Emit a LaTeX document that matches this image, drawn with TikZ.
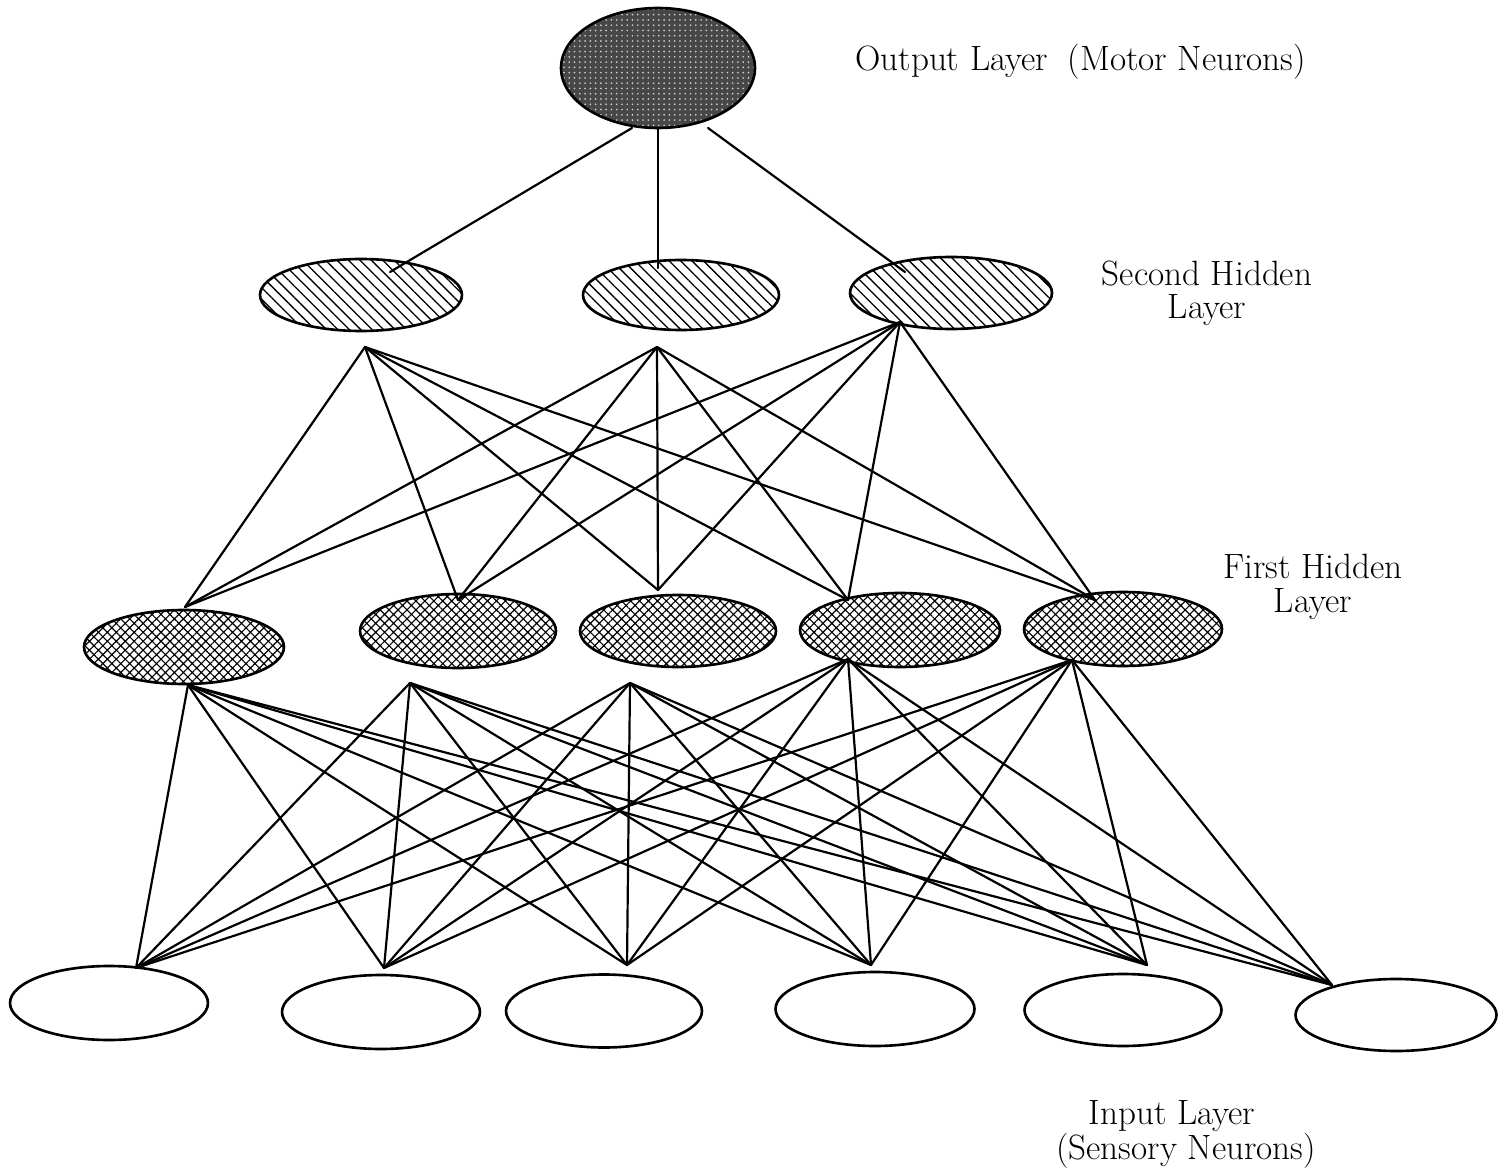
\documentclass[tikz,border=0pt]{standalone}
\usetikzlibrary{shapes.geometric,patterns.meta}
\tikzset{
  neuron/.style={ellipse, draw=black, line width=1.5pt, inner sep=0pt},
  outcell/.style={neuron, preaction={fill=black!72},
    pattern={Dots[distance=3pt,radius=0.55pt]}, pattern color=white!80!black},
  hidtwo/.style={neuron, preaction={fill=white},
    pattern={Lines[angle=-45,distance=4.6pt,line width=0.75pt]}, pattern color=black},
  hidone/.style={neuron, preaction={fill=white},
    pattern={Hatch[angle=45,distance=3.6pt,line width=0.65pt]}, pattern color=black},
  incell/.style={neuron, fill=white},
  wire/.style={line width=1.25pt, line cap=round},
  lbl/.style={font=\fontsize{20}{19}\selectfont, inner sep=0pt, align=center}
}
\begin{document}
\begin{tikzpicture}[x=0.02cm, y=-0.02cm]
\useasboundingbox (0,0) rectangle (1508,1169);

% ---- connection points ----
\coordinate (ob1) at (632,128); \coordinate (ob2) at (658,128); \coordinate (ob3) at (708,128);
\coordinate (st1) at (390,272); \coordinate (st2) at (658,268); \coordinate (st3) at (905,272);
\coordinate (sb1) at (365,347); \coordinate (sb2) at (657,347); \coordinate (sb3) at (900,322);
\coordinate (ft1) at (185,607); \coordinate (ft2) at (458,600); \coordinate (ft3) at (658,590);
\coordinate (ft4) at (848,600); \coordinate (ft5) at (1095,600);
\coordinate (fb1) at (188,685); \coordinate (fb2) at (410,683); \coordinate (fb3) at (630,683);
\coordinate (fb4) at (848,659); \coordinate (fb5) at (1072,660);
\coordinate (it1) at (136,968); \coordinate (it2) at (384,968); \coordinate (it3) at (627,965);
\coordinate (it4) at (871,965); \coordinate (it5) at (1147,965); \coordinate (it6) at (1332,985);

% ---- neurons ----
\node[outcell, minimum width=3.88cm, minimum height=2.4cm] (out) at (658,68) {};

\node[hidtwo, minimum width=4.04cm, minimum height=1.44cm] (s1) at (361,295) {};
\node[hidtwo, minimum width=3.92cm, minimum height=1.40cm] (s2) at (681,295) {};
\node[hidtwo, minimum width=4.04cm, minimum height=1.44cm] (s3) at (951,293) {};

\node[hidone, minimum width=4.00cm, minimum height=1.48cm] (f1) at (184,647) {};
\node[hidone, minimum width=3.92cm, minimum height=1.48cm] (f2) at (458,631) {};
\node[hidone, minimum width=3.92cm, minimum height=1.44cm] (f3) at (678,631) {};
\node[hidone, minimum width=4.00cm, minimum height=1.48cm] (f4) at (900,630) {};
\node[hidone, minimum width=3.96cm, minimum height=1.48cm] (f5) at (1123,629) {};

\node[incell, minimum width=3.96cm, minimum height=1.48cm] (n1) at (109,1003) {};
\node[incell, minimum width=3.96cm, minimum height=1.48cm] (n2) at (381,1012) {};
\node[incell, minimum width=3.92cm, minimum height=1.46cm] (n3) at (604,1011) {};
\node[incell, minimum width=3.98cm, minimum height=1.48cm] (n4) at (875,1009) {};
\node[incell, minimum width=3.94cm, minimum height=1.44cm] (n5) at (1123,1010) {};
\node[incell, minimum width=4.02cm, minimum height=1.44cm] (n6) at (1396,1015) {};

% ---- connections ----
\draw[wire] (ob1) -- (st1);
\draw[wire] (ob2) -- (st2);
\draw[wire] (ob3) -- (st3);

\foreach \s in {sb1,sb2,sb3}
  \foreach \f in {ft1,ft2,ft3,ft4,ft5}
    \draw[wire] (\s) -- (\f);

\foreach \f in {fb1,fb2,fb3,fb4,fb5}
  \foreach \i in {it1,it2,it3,it4,it5,it6}
    \draw[wire] (\f) -- (\i);

% ---- labels ----
\node[lbl, anchor=west] (lout) at (855,62) {Output Layer\hspace{0.25em} (Motor Neurons)};
\node[lbl] (lsec) at (1207,293) {Second Hidden\\Layer};
\node[lbl] (lfir) at (1313,587) {First Hidden\\Layer};
\node[lbl] (lin) at (1172,1134) {Input Layer\\\hspace*{0.8em}(Sensory Neurons)};
\end{tikzpicture}
\end{document}
